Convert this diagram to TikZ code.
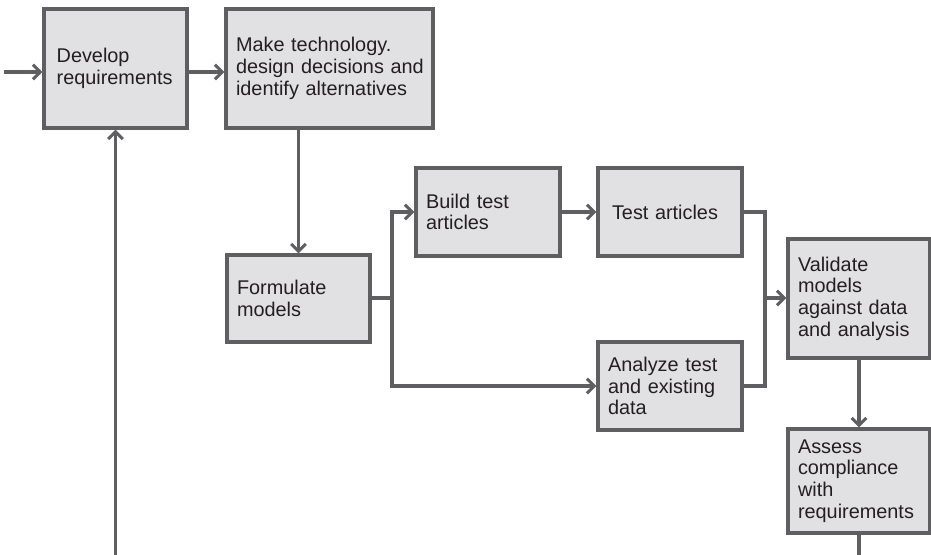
\documentclass[tikz,border=0pt]{standalone}
\usepackage{fontspec}
\setmainfont{Liberation Sans}
\usetikzlibrary{arrows.meta}
\definecolor{linegray}{HTML}{5F5F61}
\definecolor{boxfill}{HTML}{E1E1E3}
\definecolor{textdark}{HTML}{231F20}
\tikzset{
  box/.style={draw=linegray, fill=boxfill, line width=2.3pt, text=textdark,
    inner xsep=7.5pt, inner ysep=0pt, align=left,
    font=\fontsize{14.9}{16.3}\selectfont},
  conn/.style={draw=linegray, line width=2.3pt},
  arr/.style={conn, -{Straight Barb[length=5.5pt,width=11pt]}}
}
\begin{document}
\begin{tikzpicture}[x=0.75pt,y=-0.75pt]
\useasboundingbox (0,0) rectangle (931,554);
\node[box, minimum width=107.25pt, minimum height=89.25pt, text width=92.25pt] (dev) at (115.5,68.5) {\hspace*{2pt}Develop\\\hspace*{2pt}requirements};
\node[box, minimum width=155.25pt, minimum height=89.25pt, text width=140.25pt] (mt) at (329.5,68.5) {Make technology.\\\mbox{design decisions and}\\identify alternatives};
\node[box, minimum width=107.25pt, minimum height=65.25pt, text width=92.25pt] (fm) at (298.5,298.5) {Formulate\\models};
\node[box, minimum width=108pt, minimum height=66pt, text width=93pt] (bt) at (488,212) {Build test\\articles};
\node[box, minimum width=108pt, minimum height=66pt, text width=93pt] (ta) at (670,212) {\hspace*{3pt}Test articles};
\node[box, minimum width=108pt, minimum height=66pt, text width=93pt] (an) at (670,386) {Analyze test\\and existing\\data};
\node[box, minimum width=106.5pt, minimum height=89.25pt, text width=91.5pt] (val) at (859,298.5) {Validate\\models\\against data\\and analysis};
\node[box, minimum width=106.5pt, minimum height=78pt, text width=91.5pt] (as) at (859,481) {Assess\\compliance\\with\\requirements};

\coordinate (in) at (4,72);
\coordinate (br) at (392,298);
\coordinate (col) at (765,298);
\coordinate (fb) at (115.5,560);
\coordinate (asb) at (859,560);

\draw[arr] (in) -- (in -| dev.west);
\draw[arr] (dev.east |- in) -- (mt.west |- in);
\draw[arr] (mt.south -| fm.north) -- (fm.north);
\draw[conn] (fm.east |- br) -- (br);
\draw[arr] (br) |- (bt.west);
\draw[arr] (br) |- (an.west);
\draw[arr] (bt.east) -- (ta.west);
\draw[conn] (ta.east) -| (col);
\draw[conn] (an.east) -| (col);
\draw[arr] (col) -- (val.west |- col);
\draw[arr] (val.south) -- (as.north);
\draw[conn] (as.south) -- (asb);
\draw[arr] (fb) -- (dev.south);
\end{tikzpicture}
\end{document}
